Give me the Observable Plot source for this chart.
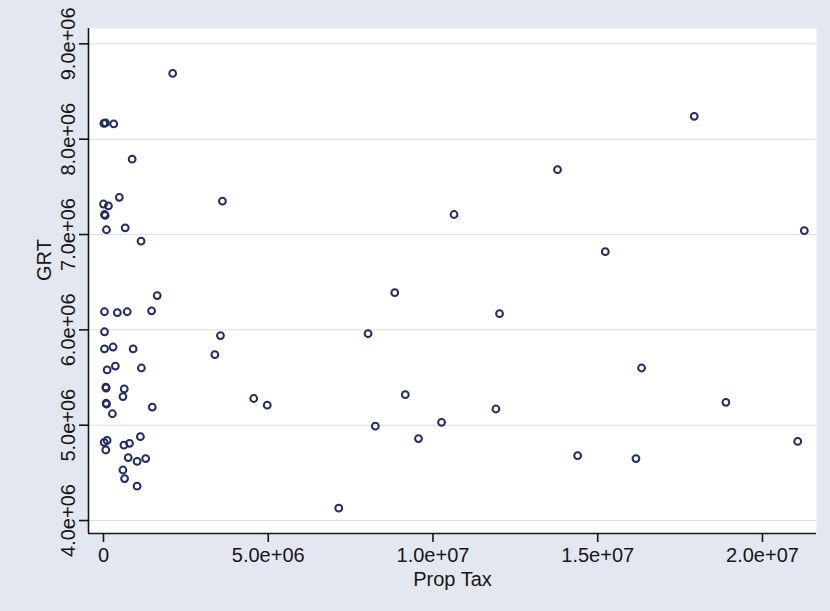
<!DOCTYPE html>
<html>
<head>
<meta charset="utf-8">
<script src="https://cdn.jsdelivr.net/npm/d3@7"></script>
<script src="https://cdn.jsdelivr.net/npm/@observablehq/plot@0.6"></script>
<style>
  html, body { margin: 0; padding: 0; background: #e3e8f0; }
  #chart svg { display: block; }
</style>
</head>
<body>
<div id="chart"></div>
<script>
// Property tax revenue (x) against gross receipts tax (y), one point per unit
const propTax = [
  2.10e6, 0.01e6, 0.06e6, 0.31e6, 0.87e6, 0.48e6, 0.00e6, 0.15e6, 0.03e6, 0.05e6,
  0.09e6, 0.66e6, 1.14e6, 3.61e6, 1.63e6, 0.03e6, 0.42e6, 0.72e6, 1.46e6, 0.03e6,
  3.55e6, 0.03e6, 0.29e6, 0.90e6, 3.38e6, 0.11e6, 0.36e6, 1.15e6, 0.07e6, 0.08e6,
  0.63e6, 0.59e6, 0.08e6, 0.09e6, 4.56e6, 4.97e6, 0.27e6, 1.48e6, 0.02e6, 0.11e6,
  0.07e6, 1.12e6, 0.62e6, 0.79e6, 0.75e6, 1.02e6, 1.28e6, 0.59e6, 0.64e6, 1.02e6,
  17.93e6, 13.78e6, 10.64e6, 15.23e6, 21.27e6, 8.84e6, 12.02e6, 8.03e6, 16.33e6, 9.16e6,
  11.91e6, 18.89e6, 8.25e6, 10.26e6, 9.56e6, 14.39e6, 16.16e6, 21.07e6, 7.14e6
];
const grt = [
  8.69e6, 8.165e6, 8.17e6, 8.16e6, 7.79e6, 7.39e6, 7.32e6, 7.30e6, 7.21e6, 7.20e6,
  7.05e6, 7.07e6, 6.93e6, 7.35e6, 6.36e6, 6.19e6, 6.18e6, 6.19e6, 6.20e6, 5.98e6,
  5.94e6, 5.80e6, 5.82e6, 5.80e6, 5.74e6, 5.58e6, 5.62e6, 5.60e6, 5.40e6, 5.39e6,
  5.38e6, 5.30e6, 5.23e6, 5.22e6, 5.28e6, 5.21e6, 5.12e6, 5.19e6, 4.82e6, 4.84e6,
  4.74e6, 4.88e6, 4.79e6, 4.81e6, 4.66e6, 4.62e6, 4.65e6, 4.53e6, 4.44e6, 4.36e6,
  8.24e6, 7.68e6, 7.21e6, 6.82e6, 7.04e6, 6.39e6, 6.17e6, 5.96e6, 5.60e6, 5.32e6,
  5.17e6, 5.24e6, 4.99e6, 5.03e6, 4.86e6, 4.68e6, 4.65e6, 4.83e6, 4.13e6
];

const xTicks = [0, 5e6, 1e7, 1.5e7, 2e7];
const yTicks = [4e6, 5e6, 6e6, 7e6, 8e6, 9e6];
const xTitle = "Prop Tax";
const yTitle = "GRT";

const xDomain = [-0.455e6, 21.64e6];
const yDomain = [3.864e6, 9.161e6];

const points = propTax.map((p, i) => ({propTax: p, grt: grt[i]}));

// Stata-style tick labels: 0, 5.0e+06, 1.0e+07 ...
const sci = d => d === 0 ? "0" : d.toExponential(1).replace(/e([+-])(\d)$/, "e$10$2");

const ink = "#161616";
const font = 20;

const chart = Plot.plot({
  width: 830,
  height: 611,
  marginLeft: 88,
  marginRight: 14,
  marginTop: 28,
  marginBottom: 78,
  style: {background: "#e3e8f0", fontFamily: "'Liberation Sans', Arial, sans-serif", color: ink},
  x: {domain: xDomain, axis: null},
  y: {domain: yDomain, axis: null},
  marks: [
    Plot.frame({fill: "white", stroke: "none"}),
    Plot.gridY(yTicks, {stroke: "#d6dee8", strokeOpacity: 1, strokeWidth: 1}),
    // axis lines
    Plot.ruleX([xDomain[0]], {stroke: ink, strokeWidth: 1.6}),
    Plot.ruleY([yDomain[0]], {stroke: ink, strokeWidth: 1.6}),
    // tick marks
    Plot.axisY(yTicks, {anchor: "left", tickSize: 9, tickFormat: () => "", label: null, stroke: ink, strokeWidth: 1.6}),
    Plot.axisX(xTicks, {anchor: "bottom", tickSize: 9, tickFormat: () => "", label: null, stroke: ink, strokeWidth: 1.6}),
    // tick labels
    Plot.text(yTicks, {y: d => d, text: sci, frameAnchor: "left", rotate: -90, textAnchor: "middle", lineAnchor: "bottom", dx: -14, fontSize: font, fill: ink}),
    Plot.text(xTicks, {x: d => d, text: sci, frameAnchor: "bottom", textAnchor: "middle", lineAnchor: "top", dy: 14, fontSize: font, fill: ink}),
    // axis titles
    Plot.text([xTitle], {text: d => d, frameAnchor: "bottom", lineAnchor: "bottom", dy: 52, fontSize: font, fill: ink}),
    Plot.text([yTitle], {text: d => d, frameAnchor: "left", rotate: -90, lineAnchor: "bottom", dx: -38, fontSize: font, fill: ink}),
    // observations
    Plot.dot(points, {x: "propTax", y: "grt", r: 3.4, fill: "none", stroke: "#222c66", strokeWidth: 2})
  ]
});

document.getElementById("chart").appendChild(chart);
</script>
</body>
</html>
